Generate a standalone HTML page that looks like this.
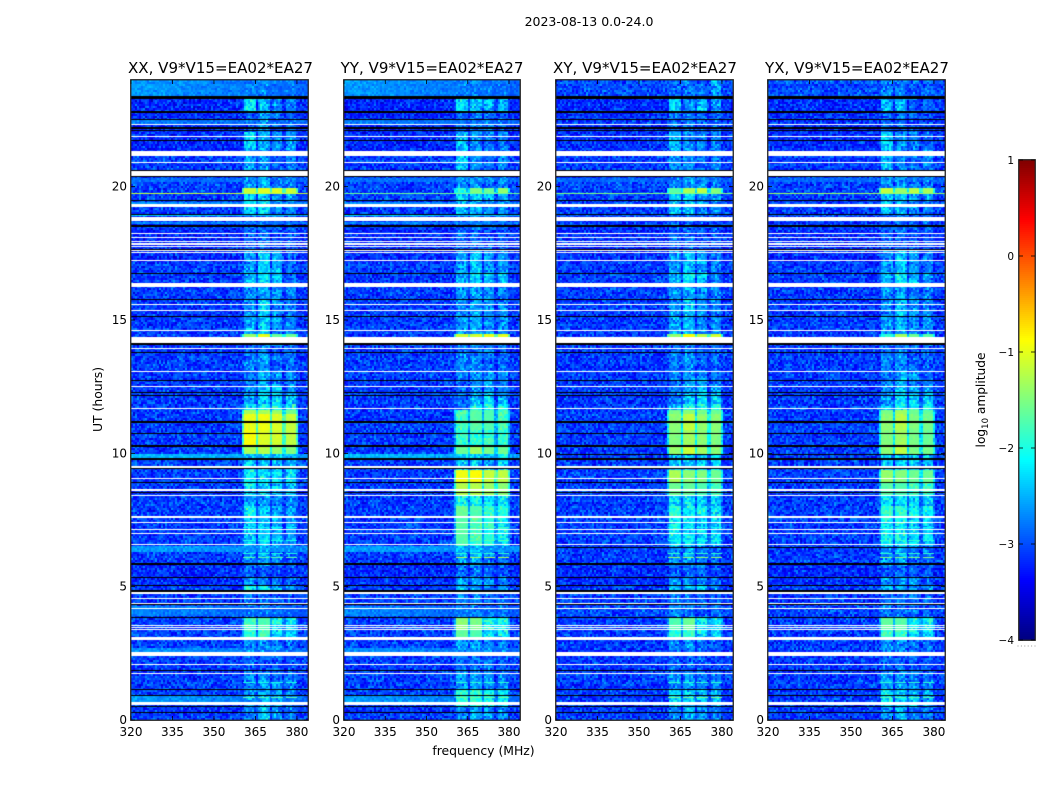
<!DOCTYPE html>
<html>
<head>
<meta charset="utf-8">
<title>2023-08-13 dynamic spectrum</title>
<style>
html,body{margin:0;padding:0;background:#fff;width:1050px;height:800px;overflow:hidden}
#stage{position:relative;width:1050px;height:800px}
canvas{position:absolute;display:block}
svg{position:absolute;left:0;top:0}
text{font-family:"DejaVu Sans","Liberation Sans",sans-serif;fill:#000}
</style>
</head>
<body>
<div id="stage">
<svg id="overlay" width="1050" height="800" viewBox="0 0 1050 800">
<text x="589" y="26" font-size="12.5" text-anchor="middle">2023-08-13 0.0-24.0</text>
<text x="483.5" y="755" font-size="12.4" text-anchor="middle">frequency (MHz)</text>
<text transform="translate(102,399.5) rotate(-90)" font-size="12.4" text-anchor="middle">UT (hours)</text>
<text transform="translate(985,400) rotate(-90)" font-size="12.2" text-anchor="middle">log<tspan font-size="8.5" dy="3">10</tspan><tspan dy="-3"> amplitude</tspan></text>
</svg>
</div>
<script>
// ---- data ----
const panelTitles = ["XX, V9*V15=EA02*EA27","YY, V9*V15=EA02*EA27","XY, V9*V15=EA02*EA27","YX, V9*V15=EA02*EA27"];
const xTicks = [320,335,350,365,380];
const yTicks = [0,5,10,15,20];
const cbarTicks = [1,0,-1,-2,-3,-4];
const bandStart = [360.6,365.9,370.8,375.9];
const bandEnd = [364.9,369.9,374.8,379.9];

// flagged (blank) integrations: UT top, UT bottom
const whiteTop = [22.35,21.90,21.34,20.93,20.60,19.35,18.87,18.74,18.25,18.10,17.97,17.88,17.79,17.63,17.55,17.25,16.40,15.59,15.38,14.63,14.37,13.95,13.08,12.53,11.69,9.53,9.08,8.66,8.44,7.64,7.43,7.15,7.00,6.59,4.79,4.58,4.40,4.20,3.56,3.49,3.42,3.12,2.55,2.09,1.76,0.68];
const whiteBottom = [22.31,21.86,21.15,20.89,20.41,19.23,18.76,18.70,18.23,18.06,17.94,17.82,17.75,17.59,17.51,17.21,16.23,15.56,15.34,14.59,14.15,13.91,13.05,12.50,11.66,9.45,9.04,8.60,8.40,7.59,7.40,7.13,6.96,6.55,4.73,4.53,4.38,4.16,3.53,3.46,3.39,3.00,2.40,2.05,1.73,0.55];
// zero-amplitude integrations, all products
const blackTop = [23.40,22.83,22.55,22.25,22.11,21.75,20.63,20.41,19.50,18.98,18.57,17.67,16.76,15.79,15.14,14.13,13.79,12.74,12.31,12.20,11.21,10.76,10.30,9.81,9.44,8.94,8.56,5.88,5.37,5.05,4.86,4.35,3.87,1.89,1.16,0.93,0.53,0.30];
const blackBottom = [23.28,22.76,22.50,22.17,22.08,21.71,20.60,20.36,19.46,18.94,18.48,17.64,16.74,15.76,15.11,14.07,13.76,12.71,12.27,12.18,11.15,10.73,10.24,9.75,9.40,8.89,8.50,5.82,5.33,5.01,4.79,4.31,3.84,1.85,1.13,0.89,0.49,0.26];
// extra zero rows seen only in the cross products
const crossBlackTop = [9.99,6.49];
const crossBlackBottom = [9.96,6.45];

// broadband background, log10 amplitude
const bgTop = [24.00,23.40,22.50,22.35,20.36,20.15,19.46,18.94,18.70,18.48,9.96,6.49,5.88,4.31,2.73,0.89];
const bgBottom = [23.40,22.55,22.35,21.15,20.15,19.50,19.35,18.87,18.57,17.20,9.81,6.30,5.00,3.87,2.55,0.68];
const bgParallelLow = [-2.60,-3.22,-2.75,-3.22,-2.85,-3.08,-2.65,-2.30,-2.70,-3.22,-2.45,-2.60,-3.20,-2.70,-2.65,-2.60];
const bgParallelHigh = [-2.90,-3.18,-2.88,-3.18,-2.88,-3.08,-2.75,-2.45,-2.80,-3.18,-2.60,-2.70,-3.18,-2.95,-2.85,-2.85];
const bgCross = [-3.00,-3.18,-3.10,-3.18,-2.88,-3.08,-3.05,-3.00,-3.10,-3.18,-3.10,-3.10,-3.18,-3.05,-3.10,-3.10];
const bgDefault = -3.10;

// spectral-window activity: segment start (UT, descending) and level per window
const segmentTop = [24.00,23.29,22.80,22.05,21.38,20.40,19.95,19.74,19.50,18.98,17.63,16.80,16.24,15.75,15.15,14.44,14.10,13.76,13.05,12.53,12.19,11.85,11.66,11.44,10.88,10.24,10.01,9.41,8.89,8.40,7.99,7.58,6.56,5.81,5.33,5.03,4.73,3.83,3.38,3.00,2.40,1.80,1.13,0.56];
const levelsXX = [[-2.75,-2.7,-2.9,-2.8],[-2.15,-2.35,-2.6,-2.7],[-2.9,-2.5,-2.8,-2.85],[-2.25,-2.5,-2.55,-2.6],[-2.55,-2.55,-2.8,-2.65],[-2.6,-2.5,-2.7,-2.7],[-1.15,-1.05,-1.05,-1.15],[-2.2,-2.3,-2.5,-2.5],[-2.2,-2.2,-2.6,-2.7],[-2.85,-2.8,-2.9,-2.9],[-2.6,-2.3,-2.5,-2.8],[-2.4,-2.15,-2.3,-2.8],[-2.6,-2.5,-2.6,-2.7],[-2.6,-2.3,-2.6,-2.7],[-2.45,-2.35,-2.6,-2.65],[-1.4,-1.0,-1.6,-1.6],[-2.8,-2.7,-2.8,-2.8],[-2.7,-2.6,-2.8,-2.85],[-2.7,-2.45,-2.6,-2.7],[-2.6,-2.3,-2.3,-2.6],[-2.6,-2.25,-2.2,-2.3],[-2.2,-2.0,-2.0,-2.0],[-1.3,-1.3,-1.4,-1.55],[-1.0,-0.95,-1.05,-1.15],[-0.9,-1.05,-1.1,-1.2],[-1.3,-1.25,-1.4,-1.5],[-2.4,-2.4,-2.3,-2.4],[-2.1,-2.2,-2.2,-2.2],[-2.15,-2.25,-2.3,-2.3],[-2.6,-2.6,-2.7,-2.7],[-2.0,-2.3,-2.5,-2.5],[-2.3,-2.3,-2.45,-2.55],[-2.65,-2.5,-2.7,-2.85],[-2.9,-2.85,-2.9,-2.95],[-2.6,-2.65,-2.6,-2.85],[-2.05,-2.1,-2.5,-2.6],[-2.75,-2.8,-2.85,-2.9],[-1.8,-1.75,-2.1,-2.2],[-1.95,-1.85,-2.2,-2.25],[-2.65,-2.6,-2.75,-2.8],[-2.85,-2.85,-2.9,-2.9],[-2.65,-2.6,-2.65,-2.7],[-2.6,-2.5,-2.55,-2.7],[-2.7,-2.3,-2.6,-2.7]];
const levelsYY = [[-2.7,-2.7,-2.8,-2.8],[-2.15,-2.3,-2.4,-2.4],[-2.8,-2.7,-2.8,-2.8],[-2.4,-2.6,-2.7,-2.7],[-2.3,-2.6,-2.8,-2.6],[-2.65,-2.6,-2.7,-2.7],[-2.0,-1.5,-1.6,-1.4],[-2.3,-2.3,-2.5,-2.5],[-2.4,-2.4,-2.6,-2.6],[-2.85,-2.8,-2.9,-2.9],[-2.6,-2.4,-2.55,-2.6],[-2.4,-2.3,-2.35,-2.4],[-2.6,-2.55,-2.65,-2.7],[-2.65,-2.5,-2.6,-2.65],[-2.55,-2.5,-2.6,-2.65],[-1.1,-1.1,-1.0,-1.0],[-2.7,-2.7,-2.8,-2.8],[-2.65,-2.65,-2.8,-2.85],[-2.8,-2.6,-2.55,-2.65],[-2.85,-2.6,-2.4,-2.65],[-2.8,-2.4,-2.2,-2.5],[-2.7,-2.1,-2.0,-2.0],[-1.8,-1.7,-1.75,-1.8],[-1.8,-1.7,-1.75,-1.8],[-1.9,-1.9,-1.85,-1.9],[-1.6,-1.35,-1.55,-1.6],[-2.3,-2.3,-2.4,-2.2],[-0.95,-0.9,-1.15,-1.2],[-1.25,-1.25,-1.35,-1.45],[-2.0,-2.0,-2.05,-2.1],[-1.6,-1.75,-1.85,-1.95],[-1.7,-1.8,-1.95,-2.1],[-2.5,-2.4,-2.75,-2.7],[-2.8,-2.75,-2.85,-2.85],[-2.55,-2.55,-2.65,-2.7],[-2.4,-2.5,-2.6,-2.5],[-2.7,-2.75,-2.8,-2.85],[-1.45,-1.55,-2.0,-2.0],[-1.65,-1.75,-2.05,-2.1],[-2.55,-2.55,-2.65,-2.7],[-2.8,-2.75,-2.7,-2.85],[-2.55,-2.5,-2.55,-2.65],[-1.95,-1.95,-2.0,-2.2],[-2.65,-2.45,-2.6,-2.6]];
const levelsXY = [[-2.8,-2.7,-2.8,-2.5],[-2.3,-2.55,-2.4,-2.5],[-2.8,-2.7,-2.8,-2.8],[-2.4,-2.6,-2.7,-2.7],[-2.6,-2.6,-2.8,-2.7],[-2.7,-2.6,-2.7,-2.75],[-1.7,-1.3,-1.2,-1.5],[-2.3,-2.3,-2.5,-2.55],[-2.4,-2.4,-2.6,-2.65],[-2.85,-2.8,-2.9,-2.9],[-2.6,-2.35,-2.55,-2.7],[-2.4,-2.15,-2.35,-2.7],[-2.6,-2.5,-2.6,-2.7],[-2.6,-2.35,-2.6,-2.7],[-2.5,-2.4,-2.6,-2.65],[-1.4,-0.9,-1.2,-1.1],[-2.8,-2.7,-2.8,-2.8],[-2.7,-2.6,-2.8,-2.85],[-2.75,-2.5,-2.6,-2.7],[-2.7,-2.5,-2.3,-2.5],[-2.7,-2.35,-2.15,-2.3],[-2.4,-2.0,-2.0,-2.0],[-1.55,-1.45,-1.55,-1.6],[-1.45,-1.2,-1.4,-1.45],[-1.5,-1.35,-1.45,-1.5],[-1.4,-1.15,-1.35,-1.45],[-2.3,-2.35,-2.3,-2.3],[-1.3,-1.45,-1.5,-1.6],[-1.6,-1.65,-1.75,-1.8],[-2.2,-2.2,-2.3,-2.3],[-1.95,-2.1,-2.1,-2.1],[-2.1,-2.2,-2.25,-2.3],[-2.6,-2.55,-2.7,-2.85],[-2.85,-2.8,-2.85,-2.9],[-2.6,-2.65,-2.55,-2.8],[-2.3,-2.4,-2.4,-2.6],[-2.7,-2.75,-2.8,-2.85],[-1.75,-1.6,-2.1,-2.15],[-1.95,-1.85,-2.2,-2.25],[-2.65,-2.6,-2.75,-2.8],[-2.85,-2.8,-2.9,-2.9],[-2.65,-2.55,-2.65,-2.7],[-2.2,-2.3,-2.4,-2.45],[-2.7,-2.45,-2.6,-2.7]];
const levelsYX = [[-2.7,-2.7,-2.8,-2.8],[-2.5,-2.4,-2.8,-2.8],[-2.8,-2.8,-2.9,-2.9],[-2.3,-2.6,-2.7,-2.8],[-2.4,-2.7,-2.8,-2.6],[-2.6,-2.6,-2.75,-2.75],[-1.2,-1.4,-1.2,-1.3],[-2.3,-2.3,-2.55,-2.55],[-2.35,-2.4,-2.6,-2.7],[-2.85,-2.8,-2.9,-2.9],[-2.6,-2.35,-2.55,-2.75],[-2.45,-2.15,-2.4,-2.65],[-2.6,-2.5,-2.65,-2.7],[-2.65,-2.4,-2.6,-2.7],[-2.55,-2.45,-2.65,-2.65],[-1.9,-1.3,-1.6,-1.7],[-2.8,-2.7,-2.8,-2.8],[-2.7,-2.6,-2.8,-2.85],[-2.7,-2.45,-2.65,-2.75],[-2.65,-2.3,-2.4,-2.55],[-2.6,-2.2,-2.2,-2.3],[-2.4,-2.0,-2.0,-2.0],[-1.55,-1.35,-1.6,-1.65],[-1.45,-1.25,-1.5,-1.55],[-1.5,-1.35,-1.55,-1.6],[-1.45,-1.2,-1.5,-1.55],[-2.3,-2.3,-2.4,-2.35],[-1.4,-1.5,-1.6,-1.6],[-1.7,-1.75,-1.85,-1.85],[-2.15,-2.2,-2.3,-2.3],[-1.9,-1.95,-2.05,-2.1],[-2.1,-2.05,-2.25,-2.3],[-2.6,-2.5,-2.8,-2.8],[-2.85,-2.8,-2.85,-2.9],[-2.6,-2.6,-2.6,-2.8],[-2.4,-2.45,-2.5,-2.6],[-2.7,-2.75,-2.8,-2.85],[-1.65,-1.7,-2.05,-2.1],[-1.85,-1.85,-2.15,-2.2],[-2.6,-2.6,-2.75,-2.8],[-2.8,-2.8,-2.85,-2.9],[-2.55,-2.55,-2.65,-2.7],[-2.1,-2.3,-2.4,-2.5],[-2.65,-2.45,-2.65,-2.7]];
const levelsByProduct = [levelsXX,levelsYY,levelsXY,levelsYX];

// thin bright rows: whole-band line and short in-window dashes
const fullLineHour = 19.75;
const fullLineLevel = [-1.15,-1.6,-1.5,-1.35];
const dashHour = [7.23,6.75,6.27,6.11,1.44,0.86];
const dashXX = [-2.1,-2.0,-2.0,-1.7,-2.0,-1.7];
const dashYY = [-1.8,-1.7,-1.9,-1.3,-1.9,-1.6];
const dashXY = [-2.1,-2.0,-1.9,-1.4,-1.9,-1.5];
const dashYX = [-2.1,-1.9,-1.9,-1.5,-1.9,-1.7];
const dashByProduct = [dashXX,dashYY,dashXY,dashYX];

// measured speckle texture (tenths of the scatter range)
const speckleA = [5,1,8,3,9,0,6,2,7,4,9,1,5,3,8,0,6,9,2,7,4,1,8,5,0,3,9,6,2,4,7,1,5,8,3,0,6];
const speckleB = [2,7,0,9,4,6,1,8,3,5,0,7,9,2,6,4,8,1,3,9,5,0,7,2,6,8,1,4,9,3,5,7,0,2,8,6,4,1,9,3,5];
// slow ripple across each spectral window, hundredths of a dex
const windowRipple = [-12,-4,4,8,4,8,0,4,-4,-8];
const weakWindowOffset = -0.08;

// ---- layout ----
const panelLeft = [131,344,556,768];
const panelWidth = [177,176,177,177];
const panelCenter = [220.5,432,645,857];
const plotTop = 80, plotHeight = 640;
const cbarLeft = 1019, cbarWidth = 16, cbarTop = 160, cbarHeight = 480;
const cols = 88, rows = 320;
const freqMin = 320, freqMax = 384, utMax = 24, vmin = -4, vmax = 1;
const svgNS = "http://www.w3.org/2000/svg";
const svg = document.getElementById("overlay");
const stage = document.getElementById("stage");

function clamp01(v){return Math.max(0,Math.min(1,v));}
function jet(v){
  const t = clamp01((v-vmin)/(vmax-vmin));
  const r = clamp01(Math.min(4*t-1.5,-4*t+4.5));
  const g = clamp01(Math.min(4*t-0.5,-4*t+3.5));
  const b = clamp01(Math.min(4*t+0.5,-4*t+2.5));
  return "rgb("+Math.round(r*255)+","+Math.round(g*255)+","+Math.round(b*255)+")";
}
function xScale(p,f){return (f-freqMin)/(freqMax-freqMin)*panelWidth[p];}
function yScale(h){return (utMax-h)/utMax*plotHeight;}
function freqOfCol(c){return freqMin+(c+0.5)/cols*(freqMax-freqMin);}
function hourOfRow(r){return utMax-(r+0.5)/rows*utMax;}

function background(p,hour,f){
  let level = bgDefault;
  for(let i=0;i<bgTop.length;i++){
    if(hour<=bgTop[i] && hour>bgBottom[i]){
      if(p<2){
        const u=(f-freqMin)/(freqMax-freqMin);
        level = bgParallelLow[i]+(bgParallelHigh[i]-bgParallelLow[i])*u;
      } else {
        level = bgCross[i];
      }
    }
  }
  return level;
}
function segmentIndex(hour){
  let idx=0;
  for(let i=0;i<segmentTop.length;i++){ if(hour<=segmentTop[i]) idx=i; }
  return idx;
}
function speckle(p,c,r){
  const la=speckleA.length, lb=speckleB.length;
  const a=speckleA[(c*c+c*7+speckleB[r%lb]*13+r*5+p*7)%la];
  const b=speckleB[(c*c*2+c*3+speckleA[r%la]*17+r*r+p*17)%lb];
  return ((a+b)/18-0.5)*2;
}
function cellValue(p,c,r){
  const f=freqOfCol(c), hour=hourOfRow(r);
  const n=speckle(p,c,r);
  const base=background(p,hour,f);
  let v=base+n*(base>-2.95 ? 0.22 : 0.48);
  if(f>bandStart[0]-0.4 && f<bandEnd[3]+0.4){
    const lv=levelsByProduct[p][segmentIndex(hour)];
    let inBand=-1;
    for(let b=0;b<4;b++){ if(f>=bandStart[b] && f<=bandEnd[b]) inBand=b; }
    if(inBand>=0){
      const lev=lv[inBand];
      const u=(f-bandStart[inBand])/(bandEnd[inBand]-bandStart[inBand]);
      const ripple=windowRipple[Math.min(windowRipple.length-1,Math.floor(u*windowRipple.length))]/100;
      const weak=lev<=-2.0;
      const amp= lev>-1.8 ? 0.08 : (weak ? 0.5 : 0.3);
      v=Math.max(v,lev+(weak?ripple+weakWindowOffset:ripple*0.25)+n*amp);
    } else {
      const mean=(lv[0]+lv[1]+lv[2]+lv[3])/4;
      v=Math.max(v,mean-0.7+n*0.35);
    }
  }
  return v;
}

function drawPanel(p){
  const canvas=document.createElement("canvas");
  
  
  canvas.width=panelWidth[p];
  canvas.height=plotHeight;
  canvas.style.left=panelLeft[p]+"px";
  canvas.style.top=plotTop+"px";
  stage.insertBefore(canvas,svg);
  const ctx=canvas.getContext("2d");
  for(let r=0;r<rows;r++){
    const y0=Math.round(r/rows*plotHeight), y1=Math.round((r+1)/rows*plotHeight);
    for(let c=0;c<cols;c++){
      const x0=Math.round(c/cols*panelWidth[p]), x1=Math.round((c+1)/cols*panelWidth[p]);
      ctx.fillStyle=jet(cellValue(p,c,r));
      ctx.fillRect(x0,y0,x1-x0,y1-y0);
    }
  }
  // thin bright rows
  ctx.fillStyle=jet(fullLineLevel[p]);
  ctx.fillRect(0,Math.round(yScale(fullLineHour)),panelWidth[p],1);
  for(let i=0;i<dashHour.length;i++){
    ctx.fillStyle=jet(dashByProduct[p][i]);
    for(let b=0;b<4;b++){
      const xa=Math.round(xScale(p,bandStart[b])), xb=Math.round(xScale(p,bandEnd[b]));
      ctx.fillRect(xa,Math.round(yScale(dashHour[i])),xb-xa,1);
    }
  }
  function flagRow(top,bottom){
    const y0=Math.round(yScale(top));
    const y1=Math.max(y0+1,Math.round(yScale(bottom)));
    ctx.fillRect(0,y0,panelWidth[p],y1-y0);
  }
  ctx.fillStyle="#000";
  for(let i=0;i<blackTop.length;i++){ flagRow(blackTop[i],blackBottom[i]); }
  if(p>=2){ for(let i=0;i<crossBlackTop.length;i++){ flagRow(crossBlackTop[i],crossBlackBottom[i]); } }
  ctx.fillStyle="#fff";
  for(let i=0;i<whiteTop.length;i++){ flagRow(whiteTop[i],whiteBottom[i]); }
}

function addLine(x1,y1,x2,y2){
  const l=document.createElementNS(svgNS,"line");
  l.setAttribute("x1",x1);l.setAttribute("y1",y1);l.setAttribute("x2",x2);l.setAttribute("y2",y2);
  l.setAttribute("stroke","#000");l.setAttribute("stroke-width","0.8");
  svg.appendChild(l);
  return l;
}
function addText(x,y,str,size,anchor){
  const t=document.createElementNS(svgNS,"text");
  t.setAttribute("x",x);t.setAttribute("y",y);
  t.setAttribute("font-size",size);t.setAttribute("text-anchor",anchor);
  t.textContent=str;
  svg.appendChild(t);
  return t;
}
function addFrame(x,y,w,h){
  const f=document.createElementNS(svgNS,"rect");
  f.setAttribute("x",x-0.25);f.setAttribute("y",y-0.25);f.setAttribute("width",w+0.5);f.setAttribute("height",h+0.5);
  f.setAttribute("fill","none");f.setAttribute("stroke","#222");f.setAttribute("stroke-width","1.3");
  svg.appendChild(f);
  return f;
}

for(let p=0;p<4;p++){
  drawPanel(p);
  const left=panelLeft[p], w=panelWidth[p], key=panelTitles[p].slice(0,2).toLowerCase();
  const title=addText(panelCenter[p],73,panelTitles[p],15.05,"middle");
  
  
  const frame=addFrame(left,plotTop,w,plotHeight);
  
  
  xTicks.forEach(function(v){
    const x=left+xScale(p,v);
    const tickB=addLine(x,plotTop+plotHeight,x,plotTop+plotHeight-4);
    
    
    const tickT=addLine(x,plotTop,x,plotTop+4);
    
    
    const label=addText(x,plotTop+plotHeight+16,String(v),12,"middle");
    
    
  });
  yTicks.forEach(function(v){
    const y=plotTop+yScale(v);
    const tickL=addLine(left,y,left+4,y);
    
    
    const tickR=addLine(left+w,y,left+w-4,y);
    
    
    const label=addText(left-4,y+4,String(v),12,"end");
    
    
  });
}

// colorbar
function cbarScale(v){return cbarTop+(vmax-v)/(vmax-vmin)*cbarHeight;}
const cbarSteps = 240;
for(let i=0;i<cbarSteps;i++){
  const v=vmax-(i+0.5)/cbarSteps*(vmax-vmin);
  const seg=document.createElementNS(svgNS,"rect");
  
  
  seg.setAttribute("x",cbarLeft);
  seg.setAttribute("y",cbarTop+i*cbarHeight/cbarSteps);
  seg.setAttribute("width",cbarWidth);
  seg.setAttribute("height",cbarHeight/cbarSteps+0.5);
  seg.setAttribute("fill",jet(v));
  svg.appendChild(seg);
}
const cbarFrame=addFrame(cbarLeft,cbarTop,cbarWidth,cbarHeight);


cbarTicks.forEach(function(v){
  const y=cbarScale(v);
  const tl=addLine(cbarLeft,y,cbarLeft+4,y);
  
  
  const tr=addLine(cbarLeft+cbarWidth,y,cbarLeft+cbarWidth-4,y);
  
  
  const lab=addText(cbarLeft-5,y+4,String(v).replace("-","\u2212"),10.5,"end");
  
  
});
for(let i=0;i<6;i++){
  const dot=document.createElementNS(svgNS,"rect");
  
  
  dot.setAttribute("x",1017.5+i*3.4);
  dot.setAttribute("y",645.5);
  dot.setAttribute("width",1);
  dot.setAttribute("height",1);
  dot.setAttribute("fill","#999");
  svg.appendChild(dot);
}
</script>
</body>
</html>
